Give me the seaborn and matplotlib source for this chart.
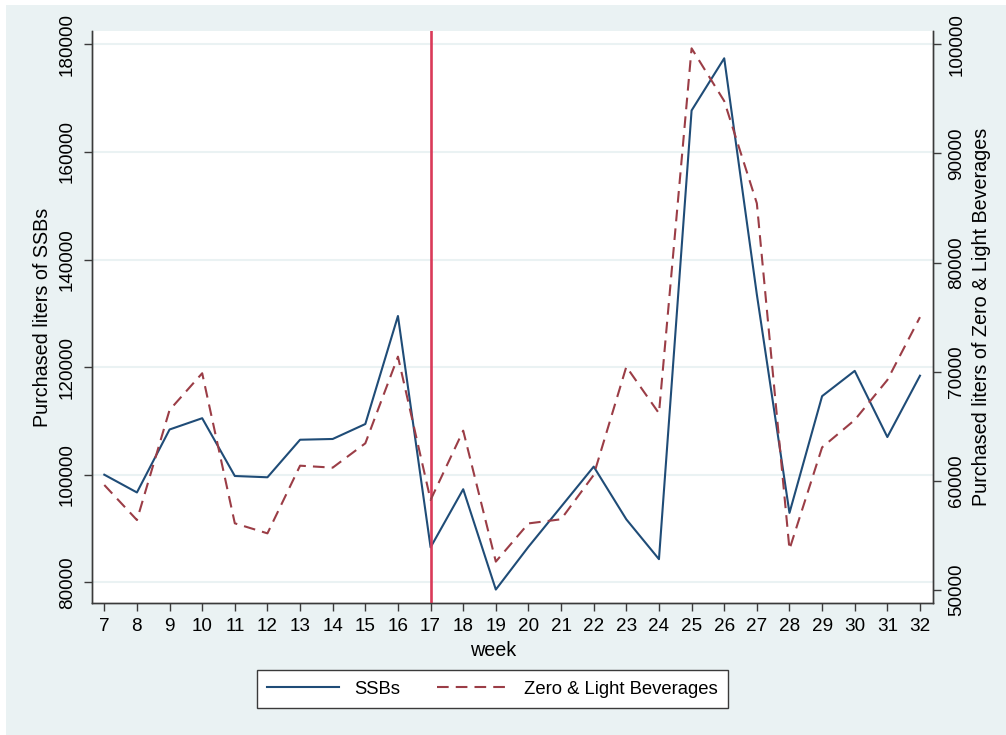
import matplotlib
matplotlib.use("Agg")
import matplotlib.pyplot as plt
from matplotlib.patches import Rectangle
from matplotlib.lines import Line2D
import seaborn as sns
import pandas as pd

# Weekly purchases (liters)
weeks = [7, 8, 9, 10, 11, 12, 13, 14, 15, 16, 17, 18, 19,
         20, 21, 22, 23, 24, 25, 26, 27, 28, 29, 30, 31, 32]
ssb_liters = [100000, 96700, 108400, 110500, 99760, 99520, 106500, 106640,
              109420, 129500, 86500, 97300, 78650, 86600, 94050, 101500,
              91700, 84300, 167700, 177400, 133500, 92900, 114600, 119300,
              107000, 118400]
zero_light_liters = [59620, 56410, 66490, 69860, 56110, 55190, 61390, 61210,
                     63440, 71380, 58250, 64600, 52600, 56100, 56480, 60540,
                     70460, 66190, 99630, 94800, 85430, 53730, 63070, 65580,
                     69240, 75000]
left_ticks = [80000, 100000, 120000, 140000, 160000, 180000]
right_ticks = [50000, 60000, 70000, 80000, 90000, 100000]
intervention_week = 17

df = pd.DataFrame({"week": weeks, "ssb": ssb_liters, "zero": zero_light_liters})

BG = "#EAF2F3"
NAVY = "#1F4C77"
MAROON = "#9B3D46"
VLINE = "#DA3A59"
AXC = "#3a3a3a"

plt.rcParams["font.family"] = ["Liberation Sans", "DejaVu Sans"]

W, H = 1006, 735
fig = plt.figure(figsize=(W / 100, H / 100), dpi=100, facecolor="white")
fig.patches.append(Rectangle((6 / W, 0), 1 - 6 / W, (H - 5) / H,
                             transform=fig.transFigure, facecolor=BG,
                             edgecolor="none", zorder=-10))

ax = fig.add_axes([92.3 / W, 1 - 603.3 / H, (932.7 - 92.3) / W, (603.3 - 30.7) / H])
ax.set_facecolor("white")
ax2 = ax.twinx()

sns.lineplot(data=df, x="week", y="ssb", ax=ax, color=NAVY, linewidth=1.5)
sns.lineplot(data=df, x="week", y="zero", ax=ax2, color=MAROON, linewidth=1.5)
ax2.lines[-1].set_dashes((5.6, 3.4))

ax.axvline(intervention_week, color=VLINE, linewidth=1.9, zorder=5)

ax.set_xlim(6.632, 32.39)
ax.set_ylim(76097, 182528)
ax2.set_ylim(48781, 101246)

ax.set_xticks(weeks)
ax.set_yticks(left_ticks)
ax2.set_yticks(right_ticks)
ax.set_yticklabels([str(v) for v in left_ticks], rotation=90, va="center")
ax2.set_yticklabels([str(v) for v in right_ticks], rotation=90, va="center")

ax.grid(axis="y", color=BG, linewidth=1.5)
ax.grid(axis="x", visible=False)
ax2.grid(False)
ax.set_axisbelow(True)

for a in (ax, ax2):
    a.spines["top"].set_visible(False)
    for s in ("left", "right", "bottom"):
        a.spines[s].set_color(AXC)
        a.spines[s].set_linewidth(1.0)

ax.tick_params(axis="both", colors=AXC, labelcolor="black", length=5.5,
               width=1.0, labelsize=13.6)
ax.tick_params(axis="y", pad=6.5)
ax.tick_params(axis="x", pad=5)
ax2.tick_params(axis="y", colors=AXC, labelcolor="black", length=5.5,
                width=1.0, labelsize=13.6, pad=5.8)

ax.set_ylabel("Purchased liters of SSBs", fontsize=14.2, labelpad=5)
ax2.set_ylabel("Purchased liters of Zero & Light Beverages", fontsize=14.2,
               labelpad=5)
ax.set_xlabel("week", fontsize=14.2)
ax.xaxis.set_label_coords((493 - 92.3) / (932.7 - 92.3), (603.3 - 641) / (603.3 - 30.7))

handles = [Line2D([], [], color=NAVY, linewidth=1.5),
           Line2D([], [], color=MAROON, linewidth=1.5, dashes=(5.6, 3.4))]
leg = fig.legend(handles, ["SSBs", "Zero & Light Beverages"],
                 loc="center", bbox_to_anchor=(492.5 / W, 1 - 689 / H),
                 ncol=2, fontsize=13.3, frameon=True, fancybox=False,
                 handlelength=3.9, handletextpad=0.8, columnspacing=2.0,
                 borderpad=0.55, borderaxespad=0)
leg.get_frame().set_edgecolor(AXC)
leg.get_frame().set_linewidth(1.0)
leg.get_frame().set_facecolor("white")
leg.get_frame().set_alpha(1.0)

fig.savefig("out.png", dpi=100, facecolor="white")
